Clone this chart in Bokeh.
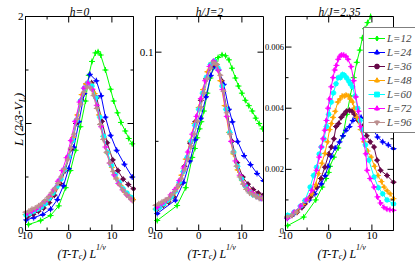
import math
from bokeh.plotting import figure
from bokeh.layouts import row
from bokeh.models import Range1d, Legend, LegendItem
from bokeh.core.properties import value
from bokeh.embed import file_html
from bokeh.resources import INLINE

# ---------------- data ----------------
sizes = ["L=12", "L=24", "L=36", "L=48", "L=60", "L=72", "L=96"]
titles = ["h=0", "h/J=2", "h/J=2.35"]

# panel 1 : h=0
h0_x12 = [-9.3, -6.5, -4.2, -2.3, -0.7, 0.4, 1.6, 2.7, 3.9, 4.65, 5.4, 6.2, 6.8, 7.4, 8.5, 9.7, 10.4, 11.3, 12.1, 13.1, 13.9, 14.7]
h0_y12 = [0.056, 0.093, 0.14, 0.23, 0.40, 0.56, 0.75, 0.97, 1.21, 1.45, 1.58, 1.66, 1.67, 1.64, 1.50, 1.32, 1.21, 1.10, 1.01, 0.93, 0.86, 0.81]
h0_x24 = [-9.8, -8.1, -6.0, -4.2, -2.6, -1.2, 0.0, 1.2, 2.4, 3.6, 4.9, 6.4, 7.5, 8.5, 9.7, 11.1, 12.9, 14.7]
h0_y24 = [0.10, 0.12, 0.15, 0.20, 0.29, 0.42, 0.58, 0.78, 1.02, 1.28, 1.46, 1.40, 1.26, 1.06, 0.89, 0.75, 0.62, 0.50]
h0_x36 = [-9.5, -8.2, -7.0, -5.8, -4.5, -3.3, -2.0, -0.8, 0.5, 1.7, 2.9, 4.1, 5.3, 6.5, 7.7, 8.9, 10.2, 11.4, 12.6, 13.8, 15.0]
h0_y36 = [0.13, 0.15, 0.18, 0.21, 0.26, 0.33, 0.44, 0.56, 0.76, 1.00, 1.22, 1.37, 1.38, 1.24, 1.02, 0.82, 0.66, 0.56, 0.48, 0.43, 0.39]
h0_x48 = [-10, -9, -8, -7, -6, -5, -4, -3, -2, -1, 0, 1, 2, 3, 4, 5, 6, 7, 8, 9, 10, 11, 12, 13, 14, 15]
h0_y48 = [0.15, 0.17, 0.19, 0.21, 0.24, 0.28, 0.33, 0.39, 0.47, 0.57, 0.70, 0.87, 1.08, 1.27, 1.37, 1.37, 1.28, 1.08, 0.88, 0.72, 0.59, 0.49, 0.42, 0.36, 0.32, 0.29]
h0_x60 = [-9.9, -9.0, -8.1, -7.2, -6.3, -5.4, -4.5, -3.6, -2.7, -1.8, -0.9, 0.0, 0.9, 1.8, 2.7, 3.6, 4.5, 5.4, 6.3, 7.2, 8.1, 9.0, 9.9, 10.8, 11.7, 12.6, 13.5, 14.4]
h0_y60 = [0.145, 0.16, 0.18, 0.20, 0.22, 0.25, 0.30, 0.35, 0.41, 0.48, 0.57, 0.69, 0.84, 1.03, 1.21, 1.33, 1.38, 1.35, 1.24, 1.06, 0.88, 0.73, 0.61, 0.52, 0.45, 0.39, 0.35, 0.31]
h0_x72 = [-9.5, -8.5, -7.5, -6.5, -5.5, -4.5, -3.5, -2.5, -1.5, -0.5, 0.5, 1.5, 2.5, 3.5, 4.5, 5.5, 6.5, 7.5, 8.5, 9.5, 10.5, 11.5, 12.5, 13.5, 14.5]
h0_y72 = [0.16, 0.18, 0.20, 0.23, 0.27, 0.32, 0.38, 0.46, 0.56, 0.68, 0.84, 1.02, 1.20, 1.33, 1.38, 1.32, 1.17, 0.97, 0.78, 0.63, 0.52, 0.44, 0.38, 0.33, 0.29]
h0_x96 = [-10, -9.25, -8.5, -7.75, -7, -6.25, -5.5, -4.75, -4, -3.25, -2.5, -1.75, -1, -0.25, 0.5, 1.25, 2, 2.75, 3.5, 4.25, 5, 5.75, 6.5, 7.25, 8, 8.75, 9.5, 10.25, 11, 11.75, 12.5, 13.25, 14, 14.75]
h0_y96 = [0.17, 0.18, 0.20, 0.21, 0.23, 0.25, 0.28, 0.31, 0.35, 0.39, 0.44, 0.50, 0.57, 0.66, 0.77, 0.90, 1.04, 1.18, 1.29, 1.34, 1.33, 1.26, 1.14, 0.99, 0.85, 0.73, 0.63, 0.55, 0.48, 0.43, 0.38, 0.34, 0.31, 0.28]

# panel 2 : h/J=2
h2_x12 = [-9.6, -5.0, -3.0, -1.5, -0.9, -0.35, 0.2, 0.6, 1.2, 2.0, 2.7, 3.3, 3.9, 4.5, 5.4, 6.2, 7.0, 7.7, 8.5, 9.2, 10.0, 10.8, 11.6, 12.4, 13.2, 14.0, 14.8]
h2_y12 = [0.0056, 0.014, 0.024, 0.041, 0.046, 0.052, 0.057, 0.061, 0.067, 0.077, 0.0855, 0.091, 0.095, 0.097, 0.0985, 0.098, 0.0957, 0.091, 0.0855, 0.081, 0.077, 0.073, 0.070, 0.067, 0.063, 0.060, 0.057]
h2_x24 = [-9.6, -5.4, -3.5, -2.0, -0.8, 0.5, 1.7, 2.8, 3.6, 4.6, 5.8, 7.0, 7.8, 9.0, 10.5, 12.0, 13.5, 15.0]
h2_y24 = [0.0095, 0.017, 0.027, 0.039, 0.051, 0.063, 0.075, 0.087, 0.092, 0.090, 0.082, 0.068, 0.061, 0.050, 0.042, 0.037, 0.032, 0.028]
h2_x36 = [-9.5, -8.2, -7.0, -5.8, -4.5, -3.3, -2.0, -0.8, 0.5, 1.7, 2.9, 4.1, 5.3, 6.5, 7.7, 8.9, 10.2, 11.4, 12.6, 13.8, 15.0]
h2_y36 = [0.012, 0.014, 0.016, 0.019, 0.026, 0.036, 0.049, 0.061, 0.073, 0.085, 0.092, 0.093, 0.084, 0.068, 0.050, 0.038, 0.030, 0.026, 0.023, 0.021, 0.020]
h2_x48 = [-10, -9, -8, -7, -6, -5, -4, -3, -2, -1, 0, 1, 2, 3, 4, 5, 6, 7, 8, 9, 10, 11, 12, 13, 14, 15]
h2_y48 = [0.012, 0.013, 0.015, 0.017, 0.020, 0.024, 0.031, 0.040, 0.050, 0.060, 0.069, 0.079, 0.089, 0.094, 0.093, 0.084, 0.070, 0.055, 0.043, 0.034, 0.028, 0.024, 0.022, 0.020, 0.019, 0.018]
h2_x60 = [-9.9, -9.0, -8.1, -7.2, -6.3, -5.4, -4.5, -3.6, -2.7, -1.8, -0.9, 0.0, 0.9, 1.8, 2.7, 3.6, 4.5, 5.4, 6.3, 7.2, 8.1, 9.0, 9.9, 10.8, 11.7, 12.6, 13.5, 14.4]
h2_y60 = [0.012, 0.013, 0.015, 0.017, 0.019, 0.022, 0.027, 0.033, 0.041, 0.050, 0.059, 0.068, 0.077, 0.086, 0.093, 0.095, 0.091, 0.081, 0.068, 0.055, 0.044, 0.036, 0.029, 0.025, 0.022, 0.020, 0.019, 0.018]
h2_x72 = [-9.5, -8.5, -7.5, -6.5, -5.5, -4.5, -3.5, -2.5, -1.5, -0.5, 0.5, 1.5, 2.5, 3.5, 4.5, 5.5, 6.5, 7.5, 8.5, 9.5, 10.5, 11.5, 12.5, 13.5, 14.5]
h2_y72 = [0.013, 0.015, 0.017, 0.020, 0.023, 0.028, 0.035, 0.044, 0.054, 0.064, 0.074, 0.084, 0.092, 0.095, 0.090, 0.079, 0.064, 0.050, 0.039, 0.031, 0.026, 0.023, 0.021, 0.019, 0.018]
h2_x96 = [-10, -9.25, -8.5, -7.75, -7, -6.25, -5.5, -4.75, -4, -3.25, -2.5, -1.75, -1, -0.25, 0.5, 1.25, 2, 2.75, 3.5, 4.25, 5, 5.75, 6.5, 7.25, 8, 8.75, 9.5, 10.25, 11, 11.75, 12.5, 13.25, 14, 14.75]
h2_y96 = [0.014, 0.015, 0.016, 0.017, 0.018, 0.020, 0.022, 0.025, 0.029, 0.034, 0.040, 0.047, 0.054, 0.061, 0.069, 0.077, 0.085, 0.091, 0.094, 0.093, 0.087, 0.078, 0.066, 0.054, 0.044, 0.036, 0.030, 0.026, 0.023, 0.021, 0.020, 0.019, 0.018, 0.018]

# panel 3 : h/J=2.35
h3_x12 = [-9.5, -5.8, -3.0, -1.5, -0.6, 0.0, 0.3, 1.2, 2.2, 3.3, 4.2, 5.0, 5.8, 6.5, 7.2, 7.8, 8.4, 9.0, 9.7]
h3_y12 = [0.00016, 0.00044, 0.00100, 0.00142, 0.0017, 0.0019, 0.0021, 0.0024, 0.0027, 0.0031, 0.0038, 0.0044, 0.0050, 0.0055, 0.0059, 0.0063, 0.0066, 0.0068, 0.0070]
h3_x24 = [-9.6, -8, -6.2, -4.5, -3.2, -1.7, -0.8, -0.15, 0.6, 1.5, 2.5, 3.3, 4.0, 4.8, 5.6, 6.3, 7.5, 8.5, 9.8, 11.3, 12.5, 13.8, 15]
h3_y24 = [0.00040, 0.00055, 0.00080, 0.00100, 0.00120, 0.00153, 0.0018, 0.0021, 0.00243, 0.0027, 0.0029, 0.0031, 0.00328, 0.0034, 0.0036, 0.00371, 0.0037, 0.0036, 0.00344, 0.00306, 0.0029, 0.0028, 0.00268]
h3_x36 = [-9.6, -8.5, -7.3, -6.2, -5.5, -4.2, -2.8, -1.8, -0.9, 0, 0.6, 1.2, 1.7, 2.3, 2.9, 3.5, 4.1, 4.8, 5.4, 6.0, 6.8, 7.8, 8.8, 9.6, 10.5, 11.2, 12.0, 13.5, 15]
h3_y36 = [0.00044, 0.0005, 0.0006, 0.00075, 0.00087, 0.0011, 0.00142, 0.0017, 0.00207, 0.0025, 0.00273, 0.0030, 0.0034, 0.0035, 0.0037, 0.0038, 0.0039, 0.00393, 0.0039, 0.0038, 0.0036, 0.0034, 0.0031, 0.0029, 0.00273, 0.0023, 0.00197, 0.0018, 0.00158]
h3_x48 = [-9.5, -7.5, -6, -5, -3.9, -3, -2.4, -1.6, -0.9, -0.3, 0.2, 0.6, 1.0, 1.5, 2.1, 2.6, 3.1, 3.6, 4.0, 4.5, 5.0, 5.5, 5.9, 6.5, 7.4, 8.2, 9.0, 9.8, 10.6, 11.4, 12.2, 12.8, 13.5, 14.2, 15]
h3_y48 = [0.00045, 0.0006, 0.00085, 0.0010, 0.0012, 0.0015, 0.00186, 0.0022, 0.00252, 0.0029, 0.0033, 0.0035, 0.0037, 0.0039, 0.0042, 0.0043, 0.0044, 0.0044, 0.00443, 0.0044, 0.0043, 0.0042, 0.0040, 0.0037, 0.0033, 0.0029, 0.0026, 0.0024, 0.0021, 0.0018, 0.0016, 0.00142, 0.0013, 0.0012, 0.00104]
h3_x60 = [-9.5, -8, -6.5, -5.5, -4.3, -3.5, -2.8, -2.2, -1.7, -1.1, -0.5, 0, 0.6, 1.1, 1.7, 2.2, 2.7, 3.2, 3.6, 4.1, 4.6, 5.0, 5.5, 6.1, 6.7, 7.3, 7.8, 8.5, 9.3, 10.5, 11.5, 12.5, 13.5, 15]
h3_y60 = [0.0005, 0.0006, 0.0008, 0.00098, 0.00142, 0.0018, 0.00207, 0.0025, 0.00273, 0.0030, 0.0034, 0.0038, 0.0042, 0.0045, 0.0048, 0.0050, 0.0050, 0.0051, 0.00508, 0.0050, 0.0049, 0.0048, 0.0047, 0.0044, 0.0040, 0.0036, 0.0033, 0.0028, 0.0023, 0.00175, 0.0014, 0.0012, 0.0010, 0.00087]
h3_x72 = [-9.5, -8, -6.5, -5.2, -3.9, -2.8, -2.2, -1.7, -1.3, -0.9, -0.5, -0.15, 0.2, 0.6, 1.0, 1.4, 1.8, 2.2, 2.6, 3.0, 3.5, 4.0, 4.5, 5.2, 5.8, 6.3, 6.9, 7.4, 8.0, 8.6, 8.9, 9.6, 10.5, 11.3, 12.0, 12.8, 13.5, 14.2, 15]
h3_y72 = [0.0004, 0.0006, 0.0008, 0.0010, 0.00131, 0.00197, 0.0024, 0.00273, 0.0030, 0.00328, 0.0036, 0.0040, 0.0043, 0.0047, 0.0050, 0.00525, 0.0054, 0.0056, 0.0057, 0.00574, 0.00574, 0.0057, 0.0056, 0.00536, 0.0049, 0.00437, 0.0039, 0.0034, 0.0030, 0.00251, 0.00197, 0.0017, 0.00142, 0.0011, 0.0009, 0.00076, 0.0007, 0.00068, 0.00066]
h3_x96 = [-9.5, -8.5, -7.5]
h3_y96 = [0.00045, 0.0005, 0.0006]

# axes
X_LO, X_HI = -10, 15
x_ticks = [-10, 0, 10]
x_minor = [-5, 5]
x_labels = ["-10", "0", "10"]
y1_max = 2.0
y1_ticks = [0, 1, 2]
y1_minor = [0.5, 1.5]
y1_labels = ["0", "1", "2"]
y2_max = 0.12
y2_ticks = [0, 0.1]
y2_minor = [0.05]
y2_labels = ["0", "0.1"]
y3_max = 0.007
y3_ticks = [0, 0.002, 0.004, 0.006]
y3_minor = [0.001, 0.003, 0.005]
y3_labels = ["0", "0.002", "0.004", "0.006"]

# ---------------- style / layout ----------------
FONT = "Liberation Serif"
colors = ["#00ff00", "#0000ff", "#670748", "#ffa500", "#00ffff", "#ff00ff", "#bc8f8f"]
markers = [("diamond", 0.0), ("triangle", 0.0), ("circle", 0.0), ("triangle", math.pi / 2),
           ("square", 0.0), ("triangle", -math.pi / 2), ("inverted_triangle", 0.0)]
H = 264          # figure height
T, B = 16, 230   # panel box top / bottom (px from figure top)


def make_panel(W, L, R, ymax, yt, ym, ylabels, ysize, ystand, title, series):
    sx = (X_HI - X_LO) / (R - L)     # data units per pixel
    sy = ymax / (B - T)
    p = figure(width=W, height=H,
               x_range=Range1d(X_LO - L * sx, X_HI + (W - R) * sx),
               y_range=Range1d(0 - (H - B) * sy, ymax + T * sy),
               x_axis_location=None, y_axis_location=None, min_border=0,
               output_backend="svg", toolbar_location=None)
    p.outline_line_color = None
    p.grid.visible = False
    p.background_fill_color = "white"
    p.border_fill_color = "white"

    rends = []
    for i, (xs, ys) in enumerate(series):
        c = colors[i]
        mk, ang = markers[i]
        r1 = p.line(xs, ys, line_color=c, line_width=1)
        r2 = p.scatter(xs, ys, marker="cross", size=6, line_color=c, line_width=1)
        r3 = p.scatter(xs, ys, marker=mk, angle=ang, size=3.5, fill_color=c, line_color=c)
        rends.append([r1, r2, r3])

    # frame
    p.quad(left=[X_LO], right=[X_HI], bottom=[0], top=[ymax],
           fill_color=None, line_color="black", line_width=1)
    # ticks (inward, mirrored)
    x0, y0, x1, y1 = [], [], [], []
    for ticks, ln in ((x_ticks, 6), (x_minor, 3)):
        for t in ticks:
            x0 += [t, t]; x1 += [t, t]
            y0 += [0, ymax]; y1 += [ln * sy, ymax - ln * sy]
    for ticks, ln in ((yt, 6), (ym, 3)):
        for t in ticks:
            y0 += [t, t]; y1 += [t, t]
            x0 += [X_LO, X_HI]; x1 += [X_LO + ln * sx, X_HI - ln * sx]
    p.segment(x0=x0, y0=y0, x1=x1, y1=y1, line_color="black", line_width=1)

    # tick labels
    p.text(x=x_ticks, y=[-1 * sy] * len(x_ticks), text=x_labels,
           text_align="center", text_baseline="top", text_color="black",
           text_font=value(FONT), text_font_size=value("11px"))
    p.text(x=[X_LO - ystand * sx] * len(yt), y=yt, text=ylabels,
           text_align="right", text_baseline="middle", text_color="black",
           text_font=value(FONT), text_font_size=value(ysize))
    # title
    p.text(x=[(X_LO + X_HI) / 2], y=[ymax + 5 * sy], text=[title],
           text_align="center", text_baseline="alphabetic", text_color="black",
           text_font=value(FONT), text_font_style="italic", text_font_size=value("11.5px"))
    # x axis label  (T-T_c) L^{1/nu}
    xc = (X_LO + X_HI) / 2
    pieces = [("(T-T", -22.0, 23, "12px"),
              ("c", -0.7, 26, "8px"),
              (") L", 2.9, 23, "12px"),
              ("1/\u03bd", 16.6, 17, "8px")]
    for t, dx, dy, fs in pieces:
        p.text(x=[xc + dx * sx], y=[-dy * sy], text=[t],
               text_align="left", text_baseline="alphabetic", text_color="black",
               text_font=value(FONT), text_font_style="italic", text_font_size=value(fs))
    return p, rends, sx, sy


p1, _, sx1, sy1 = make_panel(136, 25, 133, y1_max, y1_ticks, y1_minor, y1_labels, "11px", 2, titles[0],
                             [(h0_x12, h0_y12), (h0_x24, h0_y24), (h0_x36, h0_y36), (h0_x48, h0_y48),
                              (h0_x60, h0_y60), (h0_x72, h0_y72), (h0_x96, h0_y96)])
# y axis label  L (2/3-V_L)  (rotated)
for t, dx, dy, fs in [("L (2/3-V", 6.7, 84.5, "13px"), ("L", 3.7, 128.2, "9px"), (")", 6.7, 133.2, "13px")]:
    p1.text(x=[X_LO - dx * sx1], y=[dy * sy1], text=[t], angle=math.pi / 2,
            text_align="left", text_baseline="alphabetic", text_color="black",
            text_font=value(FONT), text_font_style="italic", text_font_size=value(fs))

p2, _, _, _ = make_panel(128, 19, 127, y2_max, y2_ticks, y2_minor, y2_labels, "11px", 2, titles[1],
                         [(h2_x12, h2_y12), (h2_x24, h2_y24), (h2_x36, h2_y36), (h2_x48, h2_y48),
                          (h2_x60, h2_y60), (h2_x72, h2_y72), (h2_x96, h2_y96)])
p3, r3, _, _ = make_panel(151, 21, 129, y3_max, y3_ticks, y3_minor, y3_labels, "8.5px", 1.5, titles[2],
                          [(h3_x12, h3_y12), (h3_x24, h3_y24), (h3_x36, h3_y36), (h3_x48, h3_y48),
                           (h3_x60, h3_y60), (h3_x72, h3_y72), (h3_x96, h3_y96)])

items = [LegendItem(label=sizes[i], renderers=r3[i]) for i in range(len(sizes))]
legend = Legend(items=items, location=(99, 131),
                label_text_font=FONT, label_text_font_style="italic",
                label_text_font_size="11px",
                glyph_width=17, glyph_height=12, label_height=12, label_standoff=2,
                spacing=2, padding=4, margin=0,
                border_line_color="black", border_line_width=1,
                background_fill_color="white", background_fill_alpha=1.0)
p3.add_layout(legend)

layout = row(p1, p2, p3)
open("out.html", "w").write(file_html(layout, INLINE))
